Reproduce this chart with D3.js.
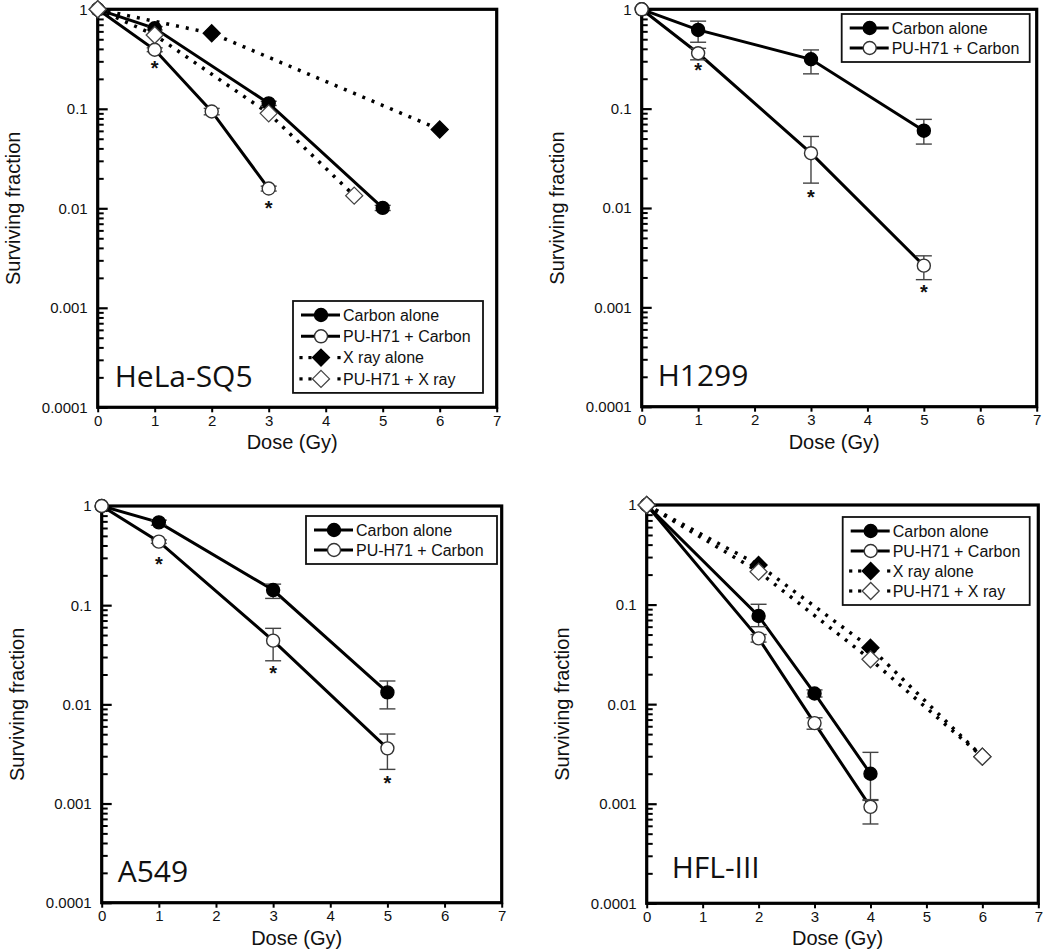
<!DOCTYPE html>
<html><head><meta charset="utf-8">
<script src="https://cdn.jsdelivr.net/npm/d3@7"></script>
<style>body{margin:0;background:#fff}</style>
</head><body><svg id="c" width="1050" height="949"></svg>
<script>
// ---------- DATA ----------
const doseTicks = [0,1,2,3,4,5,6,7];
const sfTicks = [1,0.1,0.01,0.001,0.0001];
const sfTickLabels = ["1","0.1","0.01","0.001","0.0001"];
const seriesNames = ["Carbon alone","PU-H71 + Carbon","X ray alone","PU-H71 + X ray"];
const cellLines = ["HeLa-SQ5","H1299","A549","HFL-III"];

// each point: [dose (Gy), surviving fraction, error low, error high]
const helaCarbon   = [[0,1],[1,0.645,0.62,0.67],[3,0.1135,0.108,0.119],[5,0.0101,0.0095,0.0107]];
const helaPuCarbon = [[0,1],[1,0.392,0.375,0.41],[2,0.094,0.087,0.101],[3,0.0158,0.0149,0.0167]];
const helaXray     = [[0,1],[2,0.574],[6,0.062]];
const helaPuXray   = [[0,1],[1,0.552],[3,0.09],[4.5,0.0134]];
const helaStars    = [[1,0.29],[3,0.0114]];

const h1299Carbon   = [[0,1],[1,0.62,0.466,0.76],[3,0.314,0.224,0.39],[5,0.060,0.044,0.078]];
const h1299PuCarbon = [[0,1],[1,0.361,0.31,0.405],[3,0.0356,0.0178,0.0525],[5,0.00263,0.0019,0.0033]];
const h1299Stars    = [[1,0.275],[3,0.0146],[5,0.00159]];

const a549Carbon   = [[0,1],[1,0.684,0.64,0.72],[3,0.142,0.117,0.163],[5,0.0132,0.009,0.0172]];
const a549PuCarbon = [[0,1],[1,0.437,0.42,0.455],[3,0.0439,0.0275,0.0584],[5,0.0036,0.00221,0.00502]];
const a549Stars    = [[1,0.292],[3,0.0233],[5,0.00181]];

const hflCarbon   = [[0,1],[2,0.0768,0.06,0.1007],[3,0.0128,0.0118,0.0139],[4,0.0020,0.0011,0.00328]];
const hflPuCarbon = [[0,1],[2,0.0458,0.042,0.05],[3,0.00645,0.0056,0.0073],[4,0.00093,0.000626,0.00108]];
const hflXray     = [[0,1],[2,0.25],[4,0.0369],[6,0.00297]];
const hflPuXray   = [[0,1],[2,0.214],[4,0.0282],[6,0.00297]];
const hflStars    = [];

// ---------- LAYOUT ----------
const panels = [
  {label:cellLines[0], x0:97.7, x1:496.7, y0:9.3, y1:407.3,
   series:[helaCarbon,helaPuCarbon,helaXray,helaPuXray], stars:helaStars,
   legend:{x:293,y:301,w:190,n:4,step:21.3}, lab:{dx:17,dy:-20}},
  {label:cellLines[1], x0:641.7, x1:1036.7, y0:9.3, y1:406.7,
   series:[h1299Carbon,h1299PuCarbon], stars:h1299Stars,
   legend:{x:841.7,y:14,w:188,n:2,step:20}, lab:{dx:16,dy:-20.7}},
  {label:cellLines[2], x0:101.7, x1:501.7, y0:506, y1:902.7,
   series:[a549Carbon,a549PuCarbon], stars:a549Stars,
   legend:{x:306,y:516,w:191,n:2,step:20}, lab:{dx:16,dy:-20.7}},
  {label:cellLines[3], x0:646.7, x1:1038.3, y0:505, y1:903.3,
   series:[hflCarbon,hflPuCarbon,hflXray,hflPuXray], stars:hflStars,
   legend:{x:842.7,y:517,w:187,n:4,step:20}, lab:{dx:25,dy:-25}}
];

const styles = [
  {dash:null, marker:"circle", fill:"#000", stroke:"#000"},
  {dash:null, marker:"circle", fill:"#fff", stroke:"#333"},
  {dash:"3,7", marker:"diamond", fill:"#000", stroke:"#000"},
  {dash:"3,7", marker:"diamond", fill:"#fff", stroke:"#444"}
];

const svg = d3.select("#c");
const FONT = "'Liberation Sans', Arial, sans-serif";

function drawMarker(g, st, x, y) {
  if (st.marker === "circle") {
    g.append("circle").attr("cx",x).attr("cy",y).attr("r",6.5)
      .attr("fill",st.fill).attr("stroke",st.stroke).attr("stroke-width",1.4);
  } else {
    const s = 8.5;
    g.append("path").attr("d",`M${x},${y-s}L${x+s},${y}L${x},${y+s}L${x-s},${y}Z`)
      .attr("fill",st.fill).attr("stroke",st.stroke).attr("stroke-width",1.3);
  }
}

panels.forEach(p => {
  const x = d3.scaleLinear().domain([0,7]).range([p.x0,p.x1]);
  const y = d3.scaleLog().domain([0.0001,1]).range([p.y1,p.y0]);
  const g = svg.append("g");

  // x axis
  const xa = g.append("g").attr("transform",`translate(0,${p.y1})`)
    .call(d3.axisBottom(x).tickValues(doseTicks).tickSize(5).tickPadding(3).tickFormat(d3.format("d")));
  xa.select(".domain").remove();
  xa.selectAll("line").attr("stroke","#000").attr("stroke-width",2);
  xa.selectAll("text").attr("font-family",FONT).attr("font-size",15).attr("fill","#111");

  // y axis (ticks inside)
  const minor = [];
  for (let e=-4;e<0;e++) for (let m=2;m<=9;m++) minor.push(m*Math.pow(10,e));
  const ym = g.append("g").attr("transform",`translate(${p.x0},0)`)
    .call(d3.axisRight(y).tickValues(minor).tickSize(6).tickFormat(""));
  ym.select(".domain").remove();
  ym.selectAll("line").attr("stroke","#000").attr("stroke-width",2);
  const yM = g.append("g").attr("transform",`translate(${p.x0},0)`)
    .call(d3.axisRight(y).tickValues(sfTicks).tickSize(10).tickFormat(""));
  yM.select(".domain").remove();
  yM.selectAll("line").attr("stroke","#000").attr("stroke-width",2.2);
  sfTicks.forEach((v,i) => {
    g.append("text").attr("x",p.x0-10).attr("y",y(v)).attr("dy","0.36em")
      .attr("text-anchor","end").attr("font-family",FONT).attr("font-size",15)
      .attr("fill","#111").text(sfTickLabels[i]);
  });

  // frame
  g.append("rect").attr("x",p.x0).attr("y",p.y0).attr("width",p.x1-p.x0).attr("height",p.y1-p.y0)
    .attr("fill","none").attr("stroke","#000").attr("stroke-width",3.2);

  // axis titles
  g.append("text").attr("x",(p.x0+p.x1)/2-5).attr("y",p.y1+42)
    .attr("text-anchor","middle").attr("font-family",FONT).attr("font-size",20).attr("fill","#111")
    .text("Dose (Gy)");
  g.append("text").attr("transform",`translate(${p.x0-78},${(p.y0+p.y1)/2}) rotate(-90)`)
    .attr("text-anchor","middle").attr("font-family",FONT).attr("font-size",20).attr("fill","#111")
    .text("Surviving fraction");

  // cell line label
  g.append("text").attr("x",p.x0+p.lab.dx).attr("y",p.y1+p.lab.dy)
    .attr("font-family","'Open Sans', sans-serif").attr("font-size",30).attr("fill","#111")
    .text(p.label);

  const line = d3.line().x(d=>x(d[0])).y(d=>y(d[1]));
  // lines (dotted first, then solid)
  [2,3,0,1].forEach(i => {
    if (!p.series[i]) return;
    const st = styles[i];
    g.append("path").attr("d",line(p.series[i])).attr("fill","none")
      .attr("stroke","#000").attr("stroke-width", st.dash ? 3.5 : 3)
      .attr("stroke-dasharray", st.dash);
  });
  // error bars
  p.series.forEach(s => s.forEach(d => {
    if (d.length < 4) return;
    const cx = x(d[0]);
    const eb = g.append("g").attr("stroke","#444").attr("stroke-width",1.4);
    eb.append("line").attr("x1",cx).attr("x2",cx).attr("y1",y(d[2])).attr("y2",y(d[3]));
    eb.append("line").attr("x1",cx-8).attr("x2",cx+8).attr("y1",y(d[2])).attr("y2",y(d[2]));
    eb.append("line").attr("x1",cx-8).attr("x2",cx+8).attr("y1",y(d[3])).attr("y2",y(d[3]));
  }));
  // markers
  p.series.forEach((s,i) => s.forEach(d => drawMarker(g, styles[i], x(d[0]), y(d[1]))));

  // significance stars
  p.stars.forEach(d => {
    g.append("text").attr("x",x(d[0])).attr("y",y(d[1])).attr("dy","0.6em")
      .attr("text-anchor","middle").attr("font-family",FONT).attr("font-weight","bold")
      .attr("font-size",20).attr("fill","#111").text("*");
  });

  // legend
  const L = p.legend;
  const h = 14 + (L.n-1)*L.step + 14;
  g.append("rect").attr("x",L.x).attr("y",L.y).attr("width",L.w).attr("height",h)
    .attr("fill","#fff").attr("stroke","#111").attr("stroke-width",1.8);
  for (let i=0;i<L.n;i++) {
    const st = styles[i];
    const ry = L.y + 14 + i*L.step;
    if (st.dash) {
      [L.x+8, L.x+17, L.x+46].forEach(dx => {
        g.append("rect").attr("x",dx-1.6).attr("y",ry-1.6).attr("width",3.2).attr("height",3.2).attr("fill","#000");
      });
    } else {
      g.append("line").attr("x1",L.x+8).attr("x2",L.x+47).attr("y1",ry).attr("y2",ry)
        .attr("stroke","#000").attr("stroke-width",3);
    }
    drawMarker(g, st, L.x+28, ry);
    g.append("text").attr("x",L.x+50).attr("y",ry).attr("dy","0.36em")
      .attr("font-family",FONT).attr("font-size",16).attr("fill","#111").text(seriesNames[i]);
  }
});
</script></body></html>
